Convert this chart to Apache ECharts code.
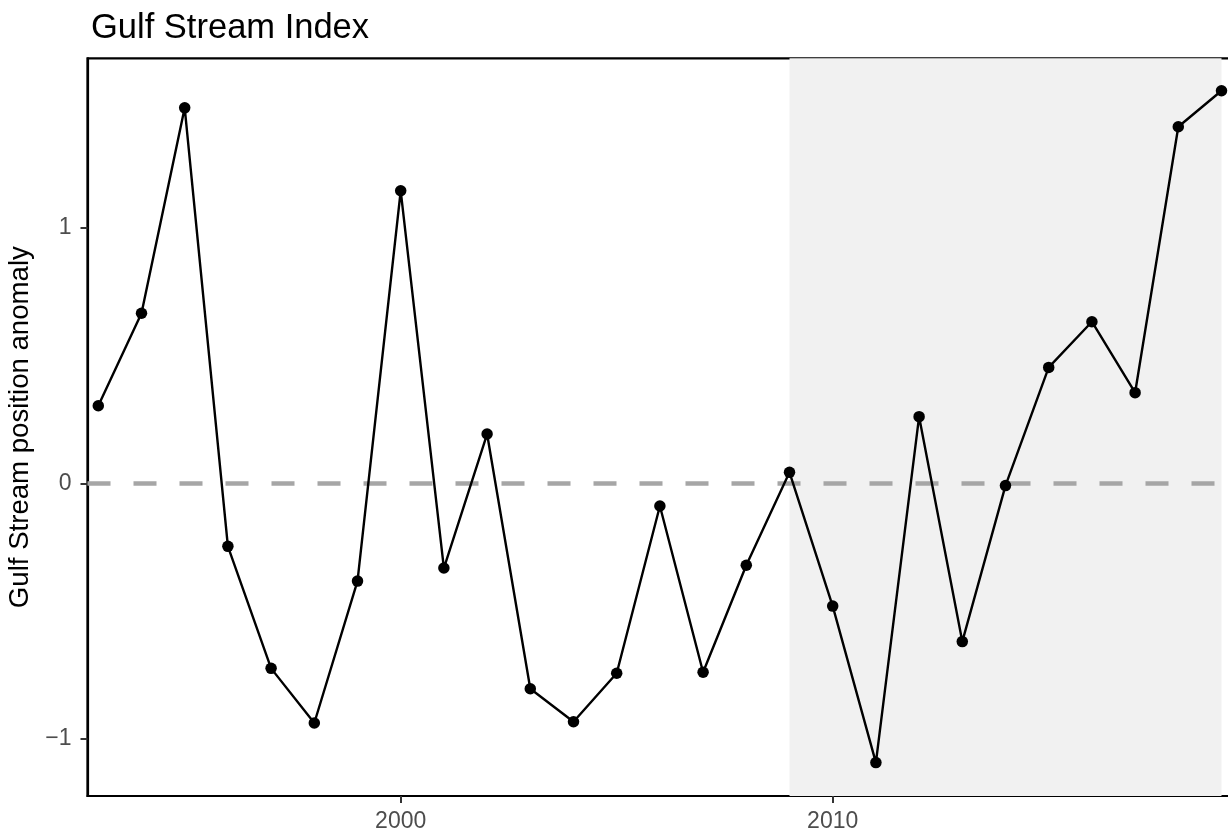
<!DOCTYPE html>
<html>
<head>
<meta charset="utf-8">
<script src="https://cdn.jsdelivr.net/npm/echarts@6/dist/echarts.min.js"></script>
<style>
html,body{margin:0;padding:0;background:#fff;}
#chart{width:1228px;height:829px;}
</style>
</head>
<body>
<div id="chart"></div>
<script>
const years = [1993,1994,1995,1996,1997,1998,1999,2000,2001,2002,2003,2004,2005,2006,2007,2008,2009,2010,2011,2012,2013,2014,2015,2016,2017,2018,2019];
const gsi = [0.304,0.666,1.471,-0.247,-0.725,-0.939,-0.383,1.146,-0.332,0.193,-0.805,-0.934,-0.744,-0.089,-0.740,-0.321,0.043,-0.481,-1.094,0.261,-0.620,-0.009,0.454,0.633,0.355,1.397,1.538];
const xTicks = [2000, 2010];
const yTicks = [-1, 0, 1];
const shadeStart = 2009;
const shadeEnd = 2019;
const refLine = 0;

const font = 'Liberation Sans, Arial, Helvetica, sans-serif';
const chart = echarts.init(document.getElementById('chart'), null, {renderer: 'canvas'});
const points = years.map((y, i) => [y, gsi[i]]);

chart.setOption({
  animation: false,
  backgroundColor: '#ffffff',
  title: {
    text: 'Gulf Stream Index',
    left: 86, top: 6,
    textStyle: {fontFamily: font, fontSize: 34.5, fontWeight: 'normal', color: '#000'}
  },
  grid: {
    left: 87.5, top: 58.3, bottom: 33, right: -4.3,
    show: true, borderColor: '#000', borderWidth: 2.2, backgroundColor: 'transparent',
    containLabel: false, outerBoundsMode: 'none'
  },
  xAxis: {
    type: 'value', min: 1992.75, max: 2019.25,
    splitLine: {show: false},
    axisLine: {show: true, onZero: false, lineStyle: {color: '#000', width: 2.2}},
    axisTick: {show: true, length: 7, lineStyle: {color: '#333', width: 2}, customValues: xTicks},
    axisLabel: {customValues: xTicks, margin: 14, color: '#4d4d4d', fontSize: 23, fontFamily: font,
      formatter: v => String(v)}
  },
  yAxis: {
    type: 'value', min: -1.225, max: 1.665,
    name: 'Gulf Stream position anomaly',
    nameLocation: 'middle', nameRotate: 90, nameGap: 52,
    nameTextStyle: {fontFamily: font, fontSize: 27.6, color: '#000'},
    splitLine: {show: false},
    axisLine: {show: true, onZero: false, lineStyle: {color: '#000', width: 2.2}},
    axisTick: {show: true, length: 7, lineStyle: {color: '#333', width: 2}, customValues: yTicks},
    axisLabel: {customValues: yTicks, margin: 16, color: '#4d4d4d', fontSize: 23, fontFamily: font,
      formatter: v => String(v).replace('-', '\u2212')}
  },
  series: [
    {
      type: 'line', data: [], z: 1, silent: true,
      markArea: {
        silent: true,
        itemStyle: {color: '#f1f1f1'},
        data: [[{xAxis: shadeStart}, {xAxis: shadeEnd}]]
      }
    },
    {
      type: 'line', data: [], z: 2, silent: true,
      markLine: {
        silent: true, symbol: ['none', 'none'], label: {show: false},
        lineStyle: {color: '#a6a6a6', width: 4.5, type: [23, 23], dashOffset: 0},
        emphasis: {disabled: true},
        data: [{yAxis: refLine}]
      }
    },
    {
      type: 'line', data: points, z: 5,
      lineStyle: {color: '#000', width: 2.4},
      itemStyle: {color: '#000'},
      symbol: 'circle', symbolSize: 11.5, showSymbol: true
    }
  ]
});
</script>
</body>
</html>
